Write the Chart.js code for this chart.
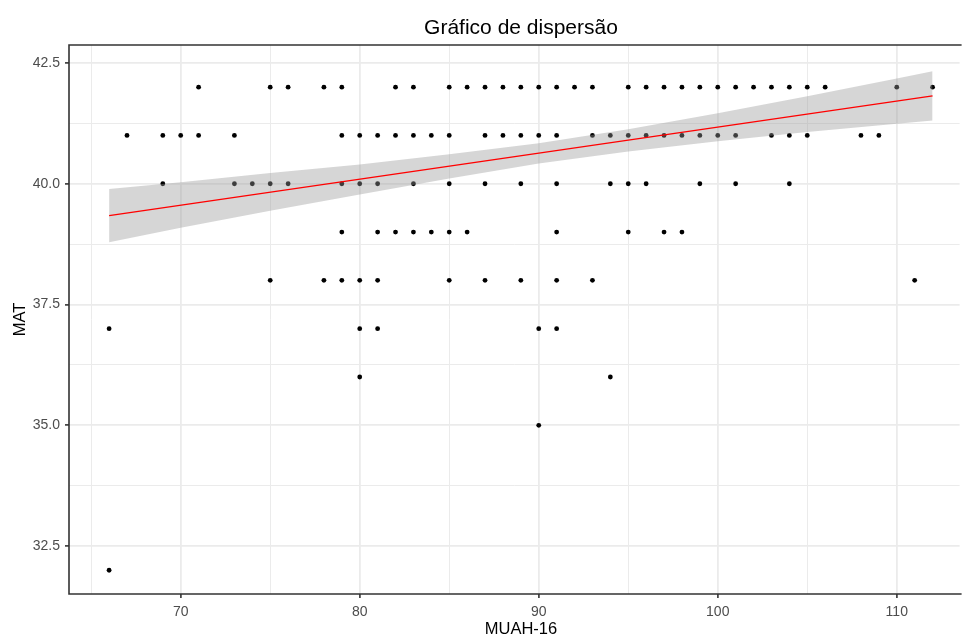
<!DOCTYPE html>
<html>
<head>
<meta charset="utf-8">
<script src="https://cdn.jsdelivr.net/npm/chart.js@4.4.1/dist/chart.umd.min.js"></script>
<style>
  html, body { margin: 0; padding: 0; background: #ffffff; }
  canvas { display: block; }
</style>
</head>
<body>
<canvas id="c" width="962" height="637"></canvas>
<script>
// ---- Data ----
const chartTitle = 'Gráfico de dispersão';
const xTitle = 'MUAH-16';
const yTitle = 'MAT';

// MAT levels and the MUAH-16 values of the points at each level
const matLevels = [42, 41, 40, 39, 38, 37, 36, 35, 32];
const muah42 = [71,75,76,78,79,82,83,85,86,87,88,89,90,91,92,93,95,96,97,98,99,100,101,102,103,104,105,106,110,112];
const muah41 = [67,69,70,71,73,79,80,81,82,83,84,85,87,88,89,90,91,93,94,95,96,97,98,99,100,101,103,104,105,108,109];
const muah40 = [69,73,74,75,76,79,80,81,83,85,87,89,91,94,95,96,99,101,104];
const muah39 = [79,81,82,83,84,85,86,91,95,97,98];
const muah38 = [75,78,79,80,81,85,87,89,91,93,111];
const muah37 = [66,80,81,90,91];
const muah36 = [80,94];
const muah35 = [90];
const muah32 = [66];
const muahByLevel = [muah42, muah41, muah40, muah39, muah38, muah37, muah36, muah35, muah32];

// Linear fit (lm) and its 95% confidence band
const fitX = [66, 112];
const fitY = [39.34, 41.82];
const bandX     = [66,    70,    75,    80,    85,    90,    95,    100,   105,   110,   112];
const bandUpper = [39.89, 40.03, 40.22, 40.40, 40.61, 40.84, 41.13, 41.46, 41.81, 42.18, 42.33];
const bandLower = [38.79, 39.09, 39.44, 39.78, 40.11, 40.42, 40.67, 40.88, 41.07, 41.24, 41.31];

// Axis ticks
const xMajorTicks = [70, 80, 90, 100, 110];
const xMinorTicks = [65, 75, 85, 95, 105];
const xTickLabels = ['70', '80', '90', '100', '110'];
const yMajorTicks = [32.5, 35, 37.5, 40, 42.5];
const yMinorTicks = [33.75, 36.25, 38.75, 41.25];
const yTickLabels = ['32.5', '35.0', '37.5', '40.0', '42.5'];

// ---- Build chart ----
const points = [];
matLevels.forEach((lvl, i) => {
  muahByLevel[i].forEach(x => points.push({ x: x, y: lvl }));
});
const fitData = fitX.map((x, i) => ({ x: x, y: fitY[i] }));
const upperData = bandX.map((x, i) => ({ x: x, y: bandUpper[i] }));
const lowerData = bandX.map((x, i) => ({ x: x, y: bandLower[i] }));

const FONT = "'Liberation Sans', Arial, Helvetica, sans-serif";
const GRID = '#EBEBEB';
const DARK = '#333333';

function isMajor(list, v) {
  return list.some(t => Math.abs(t - v) < 1e-6);
}

const bgAndText = {
  id: 'bgAndText',
  beforeDraw(chart) {
    const c = chart.ctx;
    c.save();
    c.fillStyle = '#ffffff';
    c.fillRect(0, 0, chart.width, chart.height);
    c.restore();
  },
  afterDraw(chart) {
    const c = chart.ctx;
    const a = chart.chartArea;
    c.save();
    // panel border (right edge lies outside the picture)
    c.strokeStyle = DARK;
    c.lineWidth = 1.6;
    c.beginPath();
    c.moveTo(a.right + 2, a.top);
    c.lineTo(a.left, a.top);
    c.lineTo(a.left, a.bottom);
    c.lineTo(a.right + 2, a.bottom);
    c.stroke();
    // titles
    const cx = 521;
    c.fillStyle = '#000000';
    c.textAlign = 'center';
    c.textBaseline = 'middle';
    c.font = '21px ' + FONT;
    c.fillText(chartTitle, cx, 28);
    c.font = '16.5px ' + FONT;
    c.fillText(xTitle, cx, 629);
    c.translate(20, (a.top + a.bottom) / 2);
    c.rotate(-Math.PI / 2);
    c.fillText(yTitle, 0, 0);
    c.restore();
  }
};

new Chart(document.getElementById('c'), {
  type: 'scatter',
  data: {
    datasets: [
      {
        label: 'pontos',
        data: points,
        pointRadius: 2.4,
        pointBackgroundColor: '#000000',
        pointBorderWidth: 0,
        pointHoverRadius: 2.4,
        order: 3
      },
      {
        label: 'inferior',
        data: lowerData,
        showLine: true,
        borderColor: 'rgba(0,0,0,0)',
        borderWidth: 0,
        pointRadius: 0,
        fill: false,
        order: 2
      },
      {
        label: 'superior',
        data: upperData,
        showLine: true,
        borderColor: 'rgba(0,0,0,0)',
        borderWidth: 0,
        pointRadius: 0,
        fill: '-1',
        backgroundColor: 'rgba(153,153,153,0.4)',
        order: 2
      },
      {
        label: 'ajuste',
        data: fitData,
        showLine: true,
        borderColor: '#FF0000',
        borderWidth: 1.4,
        pointRadius: 0,
        fill: false,
        order: 1
      }
    ]
  },
  options: {
    responsive: false,
    animation: false,
    devicePixelRatio: 1,
    layout: { padding: { top: 45, right: 0, bottom: 0, left: 0 } },
    plugins: {
      legend: { display: false },
      title: { display: false },
      tooltip: { enabled: false },
      filler: { propagate: false }
    },
    scales: {
      x: {
        type: 'linear',
        min: 63.76,
        max: 113.51,
        afterBuildTicks(axis) {
          axis.ticks = xMinorTicks.concat(xMajorTicks).sort((a, b) => a - b).map(v => ({ value: v }));
        },
        afterFit(axis) { axis.height = 43; },
        border: { display: false },
        grid: {
          color: GRID,
          lineWidth: ctx => isMajor(xMajorTicks, ctx.tick.value) ? 1.8 : 1,
          drawTicks: true,
          tickLength: 4,
          tickColor: ctx => isMajor(xMajorTicks, ctx.tick.value) ? DARK : 'rgba(0,0,0,0)',
          tickWidth: 1.6
        },
        ticks: {
          autoSkip: false,
          maxRotation: 0,
          padding: 6,
          color: '#4D4D4D',
          font: { family: FONT, size: 14 },
          callback: (v) => {
            const i = xMajorTicks.findIndex(t => Math.abs(t - v) < 1e-6);
            return i >= 0 ? xTickLabels[i] : '';
          }
        }
      },
      y: {
        type: 'linear',
        min: 31.508,
        max: 42.872,
        afterBuildTicks(axis) {
          axis.ticks = yMinorTicks.concat(yMajorTicks).sort((a, b) => a - b).map(v => ({ value: v }));
        },
        afterFit(axis) { axis.width = 69; },
        border: { display: false },
        grid: {
          color: GRID,
          lineWidth: ctx => isMajor(yMajorTicks, ctx.tick.value) ? 1.8 : 1,
          drawTicks: true,
          tickLength: 4,
          tickColor: ctx => isMajor(yMajorTicks, ctx.tick.value) ? DARK : 'rgba(0,0,0,0)',
          tickWidth: 1.6
        },
        ticks: {
          autoSkip: false,
          padding: 5,
          color: '#4D4D4D',
          font: { family: FONT, size: 14 },
          callback: (v) => {
            const i = yMajorTicks.findIndex(t => Math.abs(t - v) < 1e-6);
            return i >= 0 ? yTickLabels[i] : '';
          }
        }
      }
    }
  },
  plugins: [bgAndText]
});
</script>
</body>
</html>
